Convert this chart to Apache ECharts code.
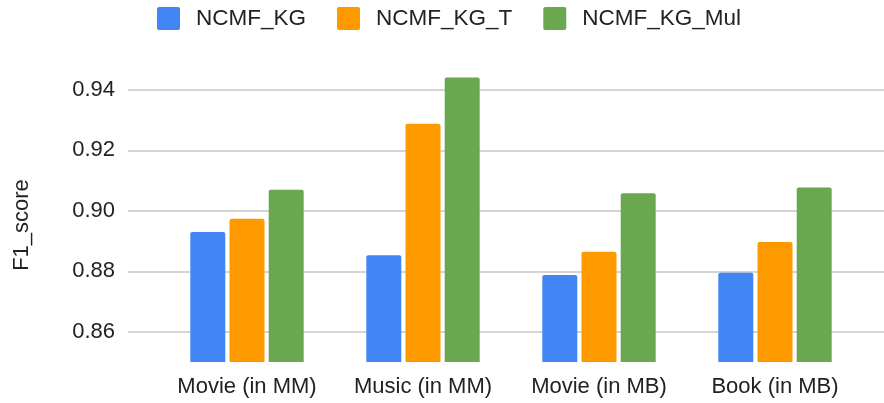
<!DOCTYPE html>
<html>
<head>
<meta charset="utf-8">
<script src="https://cdn.jsdelivr.net/npm/echarts@6/dist/echarts.min.js"></script>
<style>
  html, body { margin: 0; padding: 0; background: #ffffff; }
  #chart { width: 884px; height: 403px; }
</style>
</head>
<body>
<div id="chart"></div>
<script>
// Dataset categories and F1 scores per model variant
const categories = ['Movie (in MM)', 'Music (in MM)', 'Movie (in MB)', 'Book (in MB)'];
const seriesNames = ['NCMF_KG', 'NCMF_KG_T', 'NCMF_KG_Mul'];
const ncmfKg = [0.8930, 0.8853, 0.8788, 0.8795];
const ncmfKgT = [0.8974, 0.9288, 0.8865, 0.8897];
const ncmfKgMul = [0.9070, 0.9441, 0.9058, 0.9077];
const seriesColors = ['#4285F4', '#FF9900', '#6AA84F'];
const axisTitle = 'F1_score';

const FONT = 'Liberation Sans, Arial, sans-serif';
const TEXT = '#222222';

// small rounded square used as legend swatch
const SWATCH = 'path://M2,0 L21,0 Q23,0 23,2 L23,21 Q23,23 21,23 L2,23 Q0,23 0,21 L0,2 Q0,0 2,0 Z';

const chart = echarts.init(document.getElementById('chart'), null, { renderer: 'canvas' });

const values = [ncmfKg, ncmfKgT, ncmfKgMul];

chart.setOption({
  animation: false,
  backgroundColor: '#ffffff',
  textStyle: { fontFamily: FONT },
  legend: {
    top: 7,
    left: 157,
    padding: 0,
    itemWidth: 23,
    itemHeight: 23,
    itemGap: 31,
    icon: SWATCH,
    textStyle: { fontSize: 22.5, color: TEXT, fontFamily: FONT, padding: [0, 0, 0, 11] },
    data: seriesNames
  },
  // grid 0 carries the value labels and horizontal rules; grid 1 holds the bars
  grid: [
    { left: 128, right: 0, top: 29.6, bottom: 10.9, containLabel: false },
    { left: 159, right: 21, top: 59.8, bottom: 41.1, containLabel: false }
  ],
  xAxis: [
    { gridIndex: 0, type: 'category', show: false, data: [''] },
    {
      gridIndex: 1,
      type: 'category',
      data: categories,
      axisLine: { show: false },
      axisTick: { show: false },
      axisLabel: { interval: 0, fontSize: 22, color: TEXT, fontFamily: FONT, margin: 14 }
    }
  ],
  yAxis: [
    {
      gridIndex: 0,
      type: 'value',
      min: 0.84,
      max: 0.96,
      interval: 0.02,
      axisLine: { show: false },
      axisTick: { show: false },
      axisLabel: {
        fontSize: 22,
        color: TEXT,
        fontFamily: FONT,
        margin: 13,
        showMinLabel: false,
        showMaxLabel: false,
        formatter: v => v.toFixed(2)
      },
      splitLine: {
        show: true,
        showMinLine: false,
        showMaxLine: false,
        lineStyle: { color: '#d4d4d4', width: 2 }
      }
    },
    { gridIndex: 1, type: 'value', min: 0.85, max: 0.95, show: false, splitLine: { show: false } }
  ],
  graphic: [{
    type: 'text',
    x: 22,
    y: 225,
    rotation: Math.PI / 2,
    style: {
      text: axisTitle,
      fill: TEXT,
      font: '22px ' + FONT,
      align: 'center',
      verticalAlign: 'middle'
    }
  }],
  series: seriesNames.map((name, i) => ({
    name: name,
    type: 'bar',
    xAxisIndex: 1,
    yAxisIndex: 1,
    barWidth: 35,
    barGap: '12%',
    itemStyle: { color: seriesColors[i], borderRadius: [2, 2, 0, 0] },
    data: values[i]
  }))
});
</script>
</body>
</html>
